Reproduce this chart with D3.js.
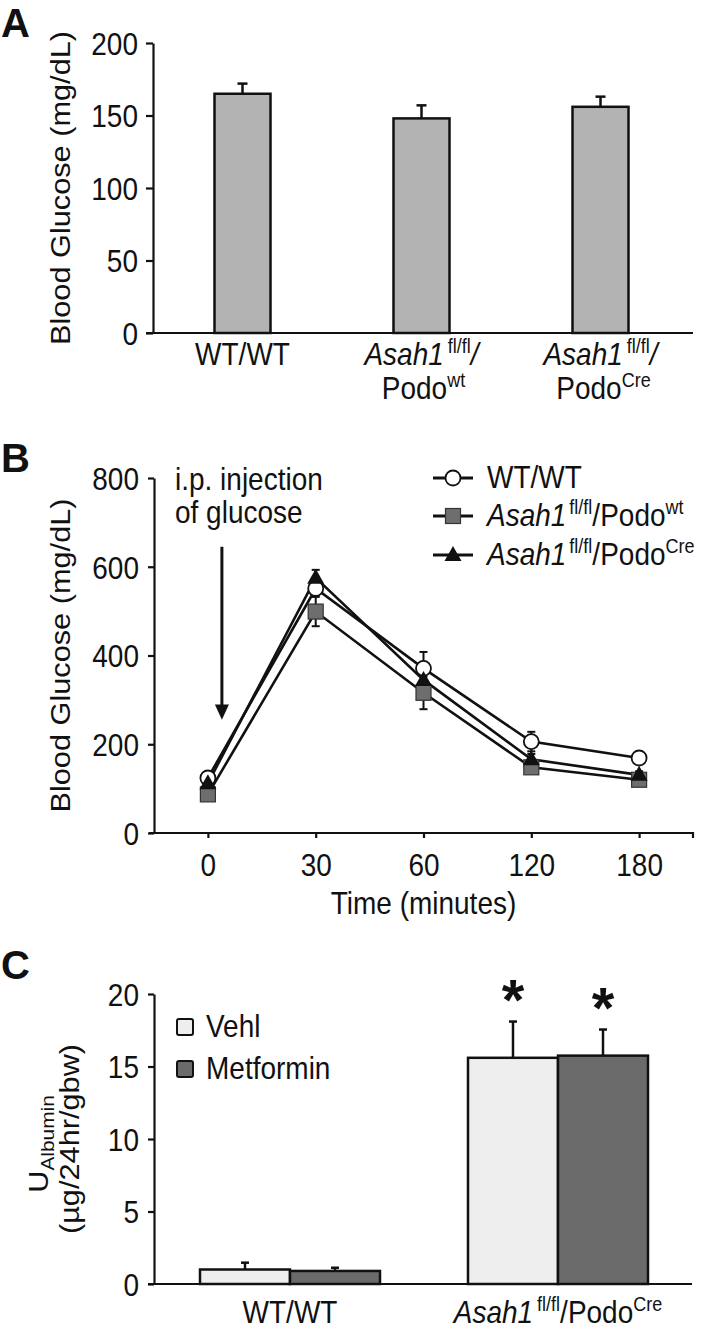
<!DOCTYPE html>
<html>
<head>
<meta charset="utf-8">
<script src="https://cdn.jsdelivr.net/npm/d3@7"></script>
<style>
  html, body { margin: 0; padding: 0; background: #fff; }
  svg { display: block; }
  text { font-family: "Liberation Sans", Arial, Helvetica, sans-serif; fill: #111; }
</style>
</head>
<body>
<svg id="fig" width="705" height="1328"></svg>
<script>
// ---------------- DATA ----------------
// Panel A: fasting blood glucose
const catsA = ["WT", "PodoWt", "PodoCre"];
const glucoseA = [165, 148, 156];
const glucoseErrA = [7, 9, 7];
const ticksA = [0, 50, 100, 150, 200];

// Panel B: glucose tolerance test
const timesB = ["0", "30", "60", "120", "180"];
const wtB = [124, 551, 371, 206, 169];
const wtErrB = [8, 15, 37, 22, 8];
const podoWtB = [87, 499, 316, 148, 120];
const podoWtErrB = [8, 33, 37, 8, 8];
const podoCreB = [112, 575, 345, 166, 131];
const podoCreErrB = [8, 18, 15, 12, 8];
const ticksB = [0, 200, 400, 600, 800];

// Panel C: urinary albumin
const groupsC = ["WT", "Cre"];
const vehlC = [1.0, 15.6];
const vehlErrC = [0.47, 2.5];
const metC = [0.9, 15.75];
const metErrC = [0.22, 1.8];
const sigVehlC = [false, true];
const sigMetC = [false, true];
const ticksC = [0, 5, 10, 15, 20];

// ---------------- HELPERS ----------------
const svg = d3.select("#fig");
const FS = 28, SUP = 18, STRETCH = 1.12;

function rich(g, x, y, parts, anchor) {
  const t = g.append("text").attr("x", x).attr("y", y)
    .attr("text-anchor", anchor || "start").attr("font-size", FS);
  let shift = 0;
  parts.forEach(p => {
    const s = t.append("tspan").text(p.t);
    let target = p.sup ? -11 : (p.sub ? 7 : 0);
    s.attr("dy", target - shift);
    shift = target;
    if (p.sup || p.sub) s.attr("font-size", p.size || SUP);
    if (p.it) s.attr("font-style", "italic");
    if (p.dx) s.attr("dx", p.dx);
  });
  return t;
}

function styleAxis(g) {
  g.selectAll("path, line").attr("stroke", "#111").attr("stroke-width", 2.2);
  g.selectAll("text").attr("font-size", FS).attr("fill", "#111")
    .attr("font-family", '"Liberation Sans", Arial, sans-serif');
}

function panelLabel(x, y, t) {
  svg.append("text").attr("class", "plabel").attr("x", x).attr("y", y).attr("font-size", 40)
    .attr("font-weight", "bold").text(t);
}

function yTitle(g, x, cy, txt) {
  return g.append("text").attr("class", "rot").attr("transform", `translate(${x},${cy}) rotate(-90)`)
    .attr("text-anchor", "middle").attr("font-size", FS).text(txt);
}

// ================= PANEL A =================
{
  const g = svg.append("g");
  const x0 = 153, x1 = 693;
  const y = d3.scaleLinear().domain([0, 200]).range([333, 43]);
  const x = d3.scalePoint().domain(catsA).range([x0, 690]).padding(0.5);
  const bw = 56;

  panelLabel(1, 37, "A");

  const ax = g.append("g").attr("transform", `translate(${x0},0)`)
    .call(d3.axisLeft(y).tickValues(ticksA).tickSize(7).tickSizeOuter(0).tickPadding(8));
  styleAxis(ax);
  ax.selectAll(".tick text").attr("dy", "0.36em");

  g.append("line").attr("x1", x0 - 7).attr("x2", x1).attr("y1", y(0)).attr("y2", y(0))
    .attr("stroke", "#111").attr("stroke-width", 2.2);

  catsA.forEach((c, i) => {
    const cx = x(c);
    g.append("line").attr("x1", cx).attr("x2", cx).attr("y1", y(glucoseA[i]))
      .attr("y2", y(glucoseA[i] + glucoseErrA[i])).attr("stroke", "#111").attr("stroke-width", 2.5);
    g.append("line").attr("x1", cx - 5).attr("x2", cx + 5)
      .attr("y1", y(glucoseA[i] + glucoseErrA[i])).attr("y2", y(glucoseA[i] + glucoseErrA[i]))
      .attr("stroke", "#111").attr("stroke-width", 2.5);
  });
  g.selectAll("rect.barA").data(glucoseA).join("rect").attr("class", "barA")
    .attr("x", (d, i) => x(catsA[i]) - bw / 2).attr("width", bw)
    .attr("y", d => y(d)).attr("height", d => y(0) - y(d))
    .attr("fill", "#b3b3b3").attr("stroke", "#111").attr("stroke-width", 2.5);

  yTitle(g, 70, (y(0) + y(200)) / 2, "Blood Glucose (mg/dL)");

  rich(g, x(catsA[0]), 365, [{t: "WT/WT"}], "middle");
  rich(g, x(catsA[1]), 365, [{t: "Asah1", it: true}, {t: "fl/fl", sup: true, dx: 4}, {t: "/", it: true}], "middle");
  rich(g, x(catsA[1]) + 2, 399, [{t: "Podo"}, {t: "wt", sup: true}], "middle");
  rich(g, x(catsA[2]), 365, [{t: "Asah1", it: true}, {t: "fl/fl", sup: true, dx: 4}, {t: "/", it: true}], "middle");
  rich(g, x(catsA[2]) + 3, 399, [{t: "Podo"}, {t: "Cre", sup: true}], "middle");
}

// ================= PANEL B =================
{
  const g = svg.append("g");
  const x0 = 154, x1 = 693;
  const y = d3.scaleLinear().domain([0, 800]).range([833, 478]);
  const x = d3.scalePoint().domain(timesB).range([x0, x1]).padding(0.5);

  panelLabel(1, 472, "B");

  const ay = g.append("g").attr("transform", `translate(${x0},0)`)
    .call(d3.axisLeft(y).tickValues(ticksB).tickSize(6).tickSizeOuter(0).tickPadding(9));
  styleAxis(ay);
  ay.selectAll(".tick text").attr("dy", "0.36em");

  const axb = g.append("g").attr("transform", `translate(0,${y(0)})`)
    .call(d3.axisBottom(x).tickSize(5).tickSizeOuter(5).tickPadding(16));
  styleAxis(axb);
  axb.select(".domain").attr("d", `M${x0 - 5},0H${x1}V5`);
  axb.selectAll(".tick text").attr("dy", "0.71em");

  g.append("text").attr("x", (x0 + x1) / 2).attr("y", 914).attr("text-anchor", "middle")
    .attr("font-size", FS).text("Time (minutes)");

  yTitle(g, 70, (y(0) + y(800)) / 2, "Blood Glucose (mg/dL)");

  // annotation
  g.append("text").attr("x", 175).attr("y", 490).attr("font-size", FS).text("i.p. injection");
  g.append("text").attr("x", 175).attr("y", 523).attr("font-size", FS).text("of glucose");
  const ax_ = x("0") + 14;
  g.append("line").attr("x1", ax_).attr("x2", ax_).attr("y1", y(645)).attr("y2", y(285))
    .attr("stroke", "#111").attr("stroke-width", 3);
  g.append("path").attr("d", `M${ax_ - 7},${y(285) - 2}L${ax_ + 7},${y(285) - 2}L${ax_},${y(255)}Z`)
    .attr("fill", "#111");

  const series = [
    {v: wtB, e: wtErrB, type: "circle"},
    {v: podoWtB, e: podoWtErrB, type: "square"},
    {v: podoCreB, e: podoCreErrB, type: "triangle"}
  ];
  const line = d3.line().x((d, i) => x(timesB[i])).y(d => y(d));

  series.forEach(s => {
    s.v.forEach((v, i) => {
      const cx = x(timesB[i]);
      g.append("line").attr("x1", cx).attr("x2", cx).attr("y1", y(v - s.e[i])).attr("y2", y(v + s.e[i]))
        .attr("stroke", "#111").attr("stroke-width", 2);
      [v - s.e[i], v + s.e[i]].forEach(w => g.append("line").attr("x1", cx - 4).attr("x2", cx + 4)
        .attr("y1", y(w)).attr("y2", y(w)).attr("stroke", "#111").attr("stroke-width", 2));
    });
  });
  series.forEach(s => {
    g.append("path").datum(s.v).attr("d", line).attr("fill", "none")
      .attr("stroke", "#111").attr("stroke-width", 2.6);
  });
  function marker(gg, type, cx, cy) {
    if (type === "circle") {
      gg.append("circle").attr("cx", cx).attr("cy", cy).attr("r", 7.5)
        .attr("fill", "#fff").attr("stroke", "#111").attr("stroke-width", 1.8);
    } else if (type === "square") {
      gg.append("rect").attr("x", cx - 7.5).attr("y", cy - 7.5).attr("width", 15).attr("height", 15)
        .attr("fill", "#6e6e6e").attr("stroke", "#333").attr("stroke-width", 1.2);
    } else {
      gg.append("path").attr("d", `M${cx},${cy - 9}L${cx + 8.5},${cy + 6}L${cx - 8.5},${cy + 6}Z`)
        .attr("fill", "#111");
    }
  }
  series.forEach(s => s.v.forEach((v, i) => marker(g, s.type, x(timesB[i]), y(v))));

  // legend
  const rows = [478, 516, 555];
  const lg = g.append("g");
  series.forEach((s, k) => {
    lg.append("line").attr("x1", 433).attr("x2", 473).attr("y1", rows[k]).attr("y2", rows[k])
      .attr("stroke", "#111").attr("stroke-width", 3);
    marker(lg, s.type, 453, rows[k]);
  });
  rich(lg, 487, rows[0] + 10, [{t: "WT/WT"}]);
  rich(lg, 487, rows[1] + 10, [{t: "Asah1", it: true}, {t: "fl/fl", sup: true, dx: 3}, {t: "/Podo"}, {t: "wt", sup: true}]);
  rich(lg, 487, rows[2] + 10, [{t: "Asah1", it: true}, {t: "fl/fl", sup: true, dx: 3}, {t: "/Podo"}, {t: "Cre", sup: true}]);
}

// ================= PANEL C =================
{
  const g = svg.append("g");
  const x0 = 154, x1 = 692;
  const y = d3.scaleLinear().domain([0, 20]).range([1284, 994]);
  const x = d3.scalePoint().domain(groupsC).range([156, x1]).padding(0.5);
  const bw = 90;

  panelLabel(1, 979, "C");

  const ay = g.append("g").attr("transform", `translate(${x0},0)`)
    .call(d3.axisLeft(y).tickValues(ticksC).tickSize(6).tickSizeOuter(0).tickPadding(9));
  styleAxis(ay);
  ay.selectAll(".tick text").attr("dy", "0.36em");
  g.append("line").attr("x1", x0 - 6).attr("x2", x1).attr("y1", y(0)).attr("y2", y(0))
    .attr("stroke", "#111").attr("stroke-width", 2.2);

  const sets = [
    {v: vehlC, e: vehlErrC, sig: sigVehlC, fill: "#eeeeee", off: -bw / 2},
    {v: metC, e: metErrC, sig: sigMetC, fill: "#6b6b6b", off: bw / 2}
  ];
  sets.forEach(s => {
    s.v.forEach((v, i) => {
      const cx = x(groupsC[i]) + s.off;
      g.append("line").attr("x1", cx).attr("x2", cx).attr("y1", y(v)).attr("y2", y(v + s.e[i]))
        .attr("stroke", "#111").attr("stroke-width", 2.5);
      g.append("line").attr("x1", cx - 4).attr("x2", cx + 4).attr("y1", y(v + s.e[i])).attr("y2", y(v + s.e[i]))
        .attr("stroke", "#111").attr("stroke-width", 2.5);
      if (s.sig[i]) {
        g.append("text").attr("class", "plabel").attr("x", cx).attr("y", y(v + s.e[i]) - 2).attr("text-anchor", "middle")
          .attr("font-size", 58).attr("font-weight", "bold").text("*");
      }
    });
  });
  sets.forEach(s => {
    g.selectAll(null).data(s.v).join("rect")
      .attr("x", (d, i) => x(groupsC[i]) + s.off - bw / 2).attr("width", bw)
      .attr("y", d => y(d)).attr("height", d => y(0) - y(d))
      .attr("fill", s.fill).attr("stroke", "#111").attr("stroke-width", 2.5);
  });

  // legend
  const lgRows = [1027, 1069];
  [["Vehl", "#eeeeee"], ["Metformin", "#6b6b6b"]].forEach((d, k) => {
    g.append("rect").attr("x", 177).attr("y", lgRows[k] - 8).attr("width", 16).attr("height", 16)
      .attr("rx", 2).attr("fill", d[1]).attr("stroke", "#111").attr("stroke-width", 2);
    g.append("text").attr("x", 206).attr("y", lgRows[k] + 10).attr("font-size", FS).text(d[0]);
  });

  // y title (two lines)
  const cy = (y(0) + y(20)) / 2;
  const t1 = g.append("text").attr("class", "rot").attr("transform", `translate(48,${cy + 5}) rotate(-90)`)
    .attr("text-anchor", "middle").attr("font-size", FS);
  t1.append("tspan").text("U");
  t1.append("tspan").text("Albumin").attr("font-size", 19).attr("dy", 6);
  yTitle(g, 79, cy, "(µg/24hr/gbw)");

  rich(g, x(groupsC[0]), 1323, [{t: "WT/WT"}], "middle");
  rich(g, x(groupsC[1]), 1323, [{t: "Asah1", it: true}, {t: "fl/fl", sup: true, dx: 4}, {t: "/Podo"}, {t: "Cre", sup: true}], "middle");
}

// ---------- stretch text slightly taller, as in the reference ----------
svg.selectAll("text").each(function() {
  const el = d3.select(this);
  if (el.classed("plabel")) return;
  const T = el.attr("transform") || "";
  if (el.classed("rot")) {
    el.attr("transform", `${T} scale(${STRETCH * 0.98},1)`);
  } else {
    const x = +el.attr("x") || 0, yy = +el.attr("y") || 0;
    el.attr("transform", `${T} translate(${x},${yy}) scale(1,${STRETCH}) translate(${-x},${-yy})`);
  }
});
</script>
</body>
</html>
